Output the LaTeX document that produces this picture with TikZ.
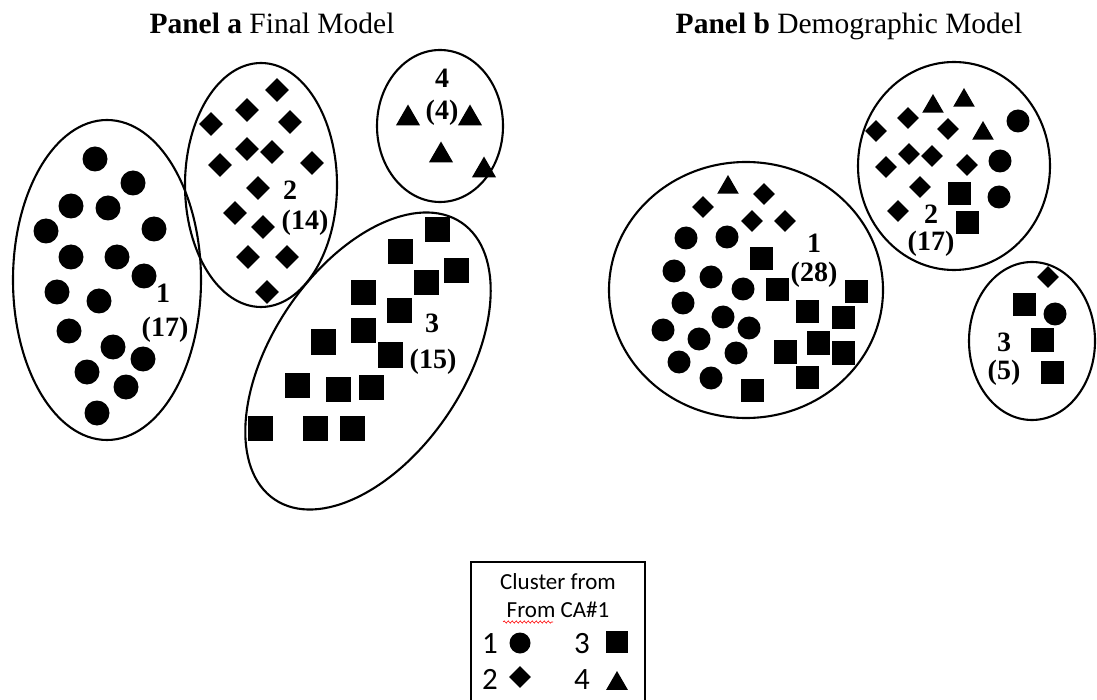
\documentclass[tikz,border=0pt]{standalone}
\usepackage{fontspec}
\setmainfont{Liberation Serif}
\newfontfamily\legfont{Carlito}
\usetikzlibrary{shapes.geometric,decorations.pathmorphing}
\begin{document}
\begin{tikzpicture}[x=1pt,y=-1pt,
  mcirc/.style={circle,fill=black,draw=none,inner sep=0pt,minimum size=#1},
  mcirc/.default=25pt,
  mdiam/.style={diamond,fill=black,draw=none,inner sep=0pt,aspect=1,minimum width=#1,minimum height=#1},
  mdiam/.default=24pt,
  msq/.style={rectangle,fill=black,draw=none,inner sep=0pt,minimum size=#1},
  msq/.default=25pt,
  mtri/.style={regular polygon,regular polygon sides=3,fill=black,draw=none,inner sep=0pt,minimum size=#1,yshift=-3.5pt},
  mtri/.default=28pt,
  clus/.style={line width=2.1pt},
  lab/.style={inner sep=0pt,font=\fontsize{28}{32}\selectfont\bfseries},
  ttl/.style={inner sep=0pt,anchor=base,font=\fontsize{29.5}{34}\selectfont},
  legtxt/.style={inner sep=0pt,anchor=base,font=\legfont\fontsize{23}{27}\selectfont},
  legnum/.style={inner sep=0pt,anchor=base,font=\legfont\fontsize{31}{35}\selectfont}
]
\useasboundingbox (0,0) rectangle (1097,700);

% titles
\node[ttl] (ta) at (272,34) {\textbf{Panel a} Final Model};
\node[ttl] (tb) at (849,34) {\textbf{Panel b} Demographic Model};

% ---------- Panel a ----------
\draw[clus] (107,280) ellipse [x radius=94pt, y radius=160pt];
\draw[clus] (261,185) ellipse [x radius=76pt, y radius=122pt];
\draw[clus] (440,126) ellipse [x radius=63pt, y radius=76pt];
\draw[clus, rotate around={56:(368,361)}] (368,361) ellipse [x radius=167pt, y radius=96pt];

\foreach \p [count=\i] in {(95,159),(133,183),(71,206),(108,208),(46,231),(154,229),(71,257),(117,257),(144,276),(57,292),(99,301),(69,331),(113,347),(143,359),(87,372),(126,387),(97,413)}
  \node[mcirc] (ac\i) at \p {};
\foreach \p [count=\i] in {(277,90),(247,110),(211,124),(290,122),(247,149),(272,152),(220,165),(312,163),(258,188),(235,213),(263,227),(248,257),(287,257),(267,292)}
  \node[mdiam] (ad\i) at \p {};
\foreach \p [count=\i] in {(408,115),(470,115),(441,152),(484,167)}
  \node[mtri] (at\i) at \p {};
\foreach \p [count=\i] in {(437,230),(400,252),(456,271),(426,283),(363,293),(399,311),(363,331),(323,342),(390,355),(297,385),(338,389),(371,387),(260,428),(315,428),(352,428)}
  \node[msq] (as\i) at \p {};

\node[lab] (la1) at (163,293) {1};
\node[lab] (la1n) at (165,330) {(17)};
\node[lab] (la2) at (290,190) {2};
\node[lab] (la2n) at (305,223) {(14)};
\node[lab] (la4) at (442,78) {4};
\node[lab] (la4n) at (442,113) {(4)};
\node[lab] (la3) at (432,323) {3};
\node[lab] (la3n) at (433,362) {(15)};

% ---------- Panel b ----------
\draw[clus] (746,290) ellipse [x radius=137pt, y radius=128pt];
\draw[clus] (954,166) ellipse [x radius=96pt, y radius=104pt];
\draw[clus] (1032,341) ellipse [x radius=63pt, y radius=79pt];

% cluster 1
\node[mtri=25pt] (bt1) at (728,184) {};
\foreach \p [count=\i] in {(703,207),(764,194),(752,221),(785,221)}
  \node[mdiam=22pt] (bd\i) at \p {};
\foreach \p [count=\i] in {(686,238),(727,237),(674,271),(711,277),(743,289),(683,303),(723,317),(749,328),(663,330),(699,339),(736,353),(679,362),(711,378)}
  \node[mcirc=23pt] (bc\i) at \p {};
\foreach \p [count=\i] in {(761,259),(777,290),(856,292),(807,312),(843,318),(818,343),(785,352),(843,353),(807,377),(752,390)}
  \node[msq=23pt] (bs\i) at \p {};
\node[lab] (lb1) at (814,243) {1};
\node[lab] (lb1n) at (814,275) {(28)};

% cluster 2
\foreach \p [count=\i] in {(933,103),(964,97),(983,130)}
  \node[mtri=25pt] (ct\i) at \p {};
\foreach \p [count=\i] in {(876,131),(908,118),(948,129),(909,154),(932,156),(886,167),(967,165),(920,187),(898,211)}
  \node[mdiam=22pt] (cd\i) at \p {};
\foreach \p [count=\i] in {(1018,121),(1000,161),(999,197)}
  \node[mcirc=23pt] (cc\i) at \p {};
\foreach \p [count=\i] in {(959,194),(967,223)}
  \node[msq=23pt] (cs\i) at \p {};
\node[lab] (lb2) at (931,214) {2};
\node[lab] (lb2n) at (931,244) {(17)};

% cluster 3
\node[mdiam=22pt] (dd1) at (1048,277) {};
\node[msq=23pt] (ds1) at (1024,305) {};
\node[mcirc=23pt] (dc1) at (1055,314) {};
\node[msq=23pt] (ds2) at (1042,340) {};
\node[msq=23pt] (ds3) at (1052,372) {};
\node[lab] (lb3) at (1004,342) {3};
\node[lab] (lb3n) at (1004,373) {(5)};

% ---------- Legend ----------
\draw[line width=2pt] (471,706) -- (471,562) -- (645,562) -- (645,706);
\node[legtxt] (lg1) at (558,589) {Cluster from};
\node[legtxt] (lg2) at (558,617) {From CA\#1};
\coordinate (sqa) at (503,622);
\coordinate (sqb) at (553,622);
\draw[red, line width=0.6pt, decorate, decoration={snake, amplitude=1.1pt, segment length=4pt}] (sqa) -- (sqb);
\node[legnum] (ln1) at (490,653) {1};
\node[legnum] (ln3) at (582,653) {3};
\node[legnum] (ln2) at (490,689) {2};
\node[legnum] (ln4) at (582,689) {4};
\node[mcirc=21pt] (lm1) at (520,643) {};
\node[msq=22pt] (lm3) at (617,642) {};
\node[mdiam=22pt] (lm2) at (520,677) {};
\node[mtri=25pt] (lm4) at (617,680) {};
\end{tikzpicture}
\end{document}
